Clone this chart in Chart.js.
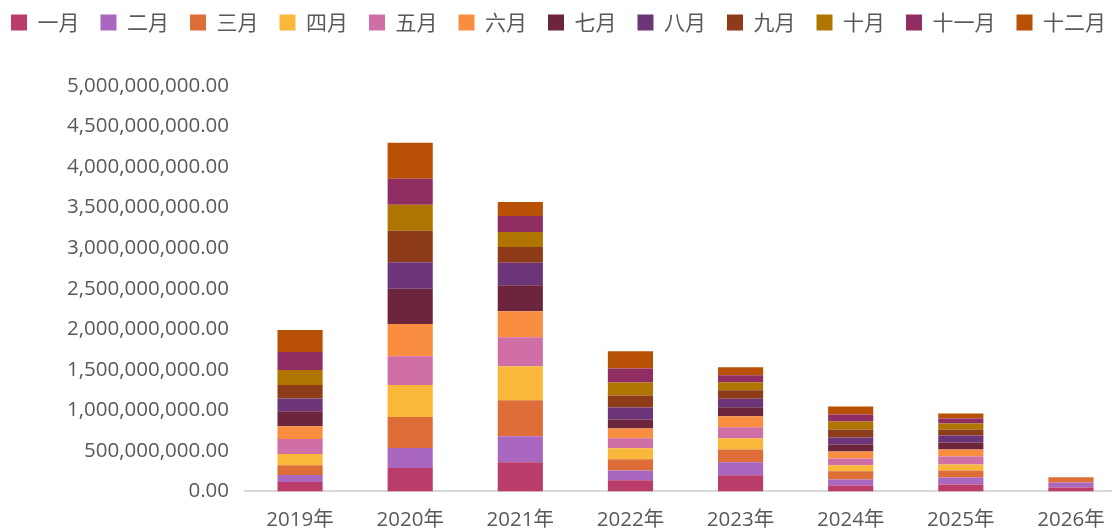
<!DOCTYPE html>
<html>
<head>
<meta charset="utf-8">
<script src="https://cdn.jsdelivr.net/npm/chart.js@4.4.1/dist/chart.umd.min.js"></script>
<style>
  html, body { margin: 0; padding: 0; background: #fff; overflow: hidden; }
  #wrap { width: 1126px; height: 532px; position: relative; }
</style>
</head>
<body>
<div id="wrap"><canvas id="chart"></canvas></div>
<script>
const years = ["2019年", "2020年", "2021年", "2022年", "2023年", "2024年", "2025年", "2026年"];
const months = ["一月", "二月", "三月", "四月", "五月", "六月", "七月", "八月", "九月", "十月", "十一月", "十二月"];
const monthColors = ["#B93C6A", "#AA67C0", "#DE6D37", "#F9B83A", "#D06EA6", "#F98E40",
  "#6D253D", "#6C3579", "#8D3B18", "#B07401", "#902D63", "#B85005"];

// values, one array per month, in yuan
const jan = [115000000, 288000000, 358000000, 136000000, 198000000, 74000000, 86000000, 49000000];
const feb = [86000000, 247000000, 321000000, 123000000, 160000000, 74000000, 86000000, 62000000];
const mar = [123000000, 383000000, 445000000, 136000000, 160000000, 99000000, 86000000, 62000000];
const apr = [136000000, 395000000, 420000000, 136000000, 136000000, 74000000, 74000000, 0];
const may = [185000000, 354000000, 358000000, 123000000, 136000000, 86000000, 99000000, 0];
const jun = [160000000, 399000000, 321000000, 123000000, 136000000, 86000000, 86000000, 0];
const jul = [185000000, 432000000, 321000000, 111000000, 111000000, 86000000, 86000000, 0];
const aug = [157000000, 329000000, 276000000, 148000000, 107000000, 86000000, 86000000, 0];
const sep = [164000000, 387000000, 193000000, 148000000, 103000000, 99000000, 74000000, 0];
const oct = [185000000, 321000000, 185000000, 160000000, 99000000, 99000000, 74000000, 0];
const nov = [222000000, 321000000, 198000000, 173000000, 86000000, 86000000, 62000000, 0];
const dec = [272000000, 445000000, 173000000, 210000000, 99000000, 99000000, 62000000, 0];
const monthValues = [jan, feb, mar, apr, may, jun, jul, aug, sep, oct, nov, dec];

const yMax = 5000000000;
const yStep = 500000000;

const textColor = "#595959";
const fontFamily = "'Open Sans', 'Noto Sans CJK SC', sans-serif";

function formatMoney(v) {
  return Number(v).toLocaleString("en-US", { minimumFractionDigits: 2, maximumFractionDigits: 2 });
}

// keep the legend on one row and push the plot area down below it
const legendSpacer = {
  id: "legendSpacer",
  beforeInit(chart) {
    const fit = chart.legend.fit;
    chart.legend.fit = function () {
      const w = this.maxWidth;
      this.maxWidth = 2000;
      fit.bind(chart.legend)();
      this.maxWidth = w;
      this.width = w;
      this.height += 43;
    };
  },
  beforeDraw(chart) {
    // the last item may run a little past the canvas edge, don't wrap it
    chart.legend.right = chart.legend.left + 2000;
  },
};

new Chart(document.getElementById("chart"), {
  type: "bar",
  data: {
    labels: years,
    datasets: months.map((m, i) => ({
      label: m,
      data: monthValues[i],
      backgroundColor: monthColors[i],
      borderWidth: 0,
      categoryPercentage: 1,
      barPercentage: 0.41,
    })),
  },
  options: {
    responsive: true,
    maintainAspectRatio: false,
    animation: false,
    layout: { padding: { left: -10, top: -9, right: 0, bottom: -16 } },
    plugins: {
      tooltip: { enabled: false },
      legend: {
        position: "top",
        align: "start",
        labels: {
          color: textColor,
          boxWidth: 16,
          boxHeight: 16,
          padding: 21,
          font: { family: "'Noto Sans CJK SC', sans-serif", size: 21 },
        },
      },
    },
    scales: {
      x: {
        stacked: true,
        grid: { display: false, drawTicks: false },
        border: { display: true, color: "#D9D9D9", width: 2 },
        ticks: { color: textColor, padding: 16, font: { family: fontFamily, size: 20.5 } },
      },
      y: {
        stacked: true,
        min: 0,
        max: yMax,
        grid: { display: false, drawTicks: false },
        border: { display: false },
        ticks: {
          stepSize: yStep,
          color: textColor,
          padding: 16,
          font: { family: fontFamily, size: 20.5 },
          callback: (v) => formatMoney(v),
        },
        afterFit(scale) { scale.width = 255; },
      },
    },
  },
  plugins: [legendSpacer],
});
</script>
</body>
</html>
